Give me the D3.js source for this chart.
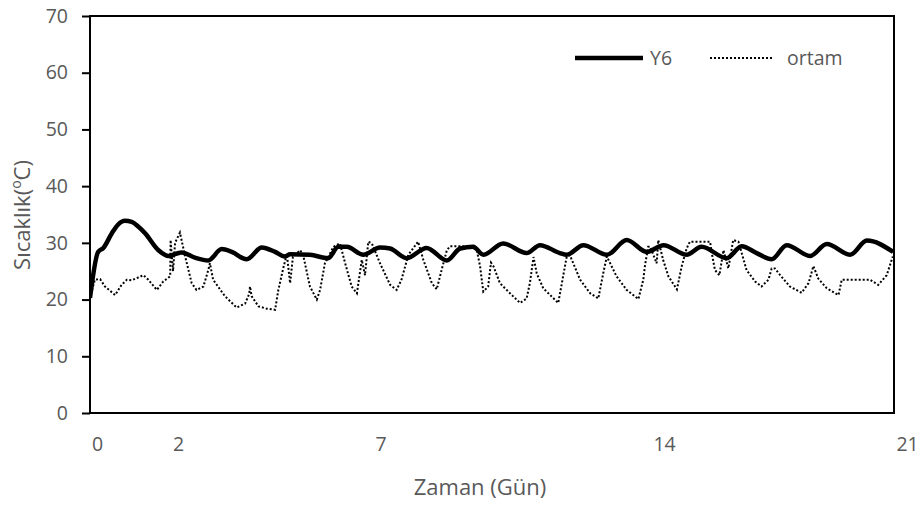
<!DOCTYPE html>
<html><head><meta charset="utf-8">
<script src="https://cdn.jsdelivr.net/npm/d3@7/dist/d3.min.js"></script>
<style>body{margin:0;background:#fff}svg{display:block}text{font-family:"Open Sans",sans-serif;fill:#595959}</style>
</head><body><svg id="c" width="922" height="505"></svg>
<script>
// ---- data ----
const y6Days = [0,0.20,0.33,0.54,0.69,0.86,1.03,1.19,1.36,1.69,1.93,2.26,2.59,2.92,3.25,3.50,3.87,4.24,4.57,4.81,4.94,5.43,5.88,6.13,6.34,6.75,7.16,7.41,7.82,8.31,8.81,9.14,9.46,9.71,10.20,10.78,11.11,11.60,11.77,12.18,12.76,13.25,13.75,14.16,14.73,15.10,15.72,16.09,16.46,16.83,17.20,17.78,18.19,18.77,19.18,19.83];
const y6Temps = [20.3,28.4,29.1,31.7,33.2,33.9,33.7,32.9,31.7,28.7,27.7,28.3,27.4,26.9,28.9,28.4,27.1,29.2,28.4,27.6,28.0,27.9,27.3,29.3,29.3,27.9,29.2,29.0,27.3,29.1,26.9,29.0,29.3,27.9,29.9,28.2,29.6,28.2,27.9,29.6,27.9,30.5,28.4,29.6,27.9,29.3,27.3,29.4,28.2,27.1,29.6,27.7,29.8,27.9,30.4,28.4];
const ortamDays = [0,0.12,0.25,0.37,0.62,0.78,0.91,1.03,1.32,1.44,1.65,1.81,1.98,1.99,2.05,2.10,2.22,2.35,2.51,2.63,2.80,2.92,2.96,3.04,3.33,3.62,3.83,3.93,3.95,3.99,4.16,4.36,4.57,4.65,4.77,4.86,4.94,5.01,5.19,5.27,5.43,5.60,5.68,5.80,6.01,6.17,6.30,6.46,6.59,6.71,6.79,6.87,6.96,7.16,7.41,7.57,7.69,7.86,8.10,8.23,8.44,8.56,8.68,8.81,8.89,9.22,9.38,9.55,9.63,9.71,9.83,9.90,9.96,10.12,10.37,10.62,10.78,10.86,10.95,11.03,11.19,11.56,11.65,11.77,11.85,12.10,12.35,12.55,12.67,12.76,13.00,13.25,13.54,13.66,13.70,13.78,13.83,13.99,14.03,14.15,14.28,14.49,14.61,14.73,14.81,15.06,15.31,15.35,15.43,15.54,15.64,15.76,15.88,16.01,16.09,16.21,16.42,16.58,16.75,16.83,16.91,17.04,17.28,17.57,17.74,17.86,17.98,18.19,18.48,18.56,18.89,19.26,19.46,19.67,19.82];
const ortamTemps = [20.3,23.5,23.6,22.3,20.8,22.6,23.5,23.4,24.3,23.5,21.7,23.2,24.1,30.5,25.0,30.0,31.8,27.6,22.9,21.7,22.3,25.2,26.4,23.5,20.6,18.6,19.3,21.0,22.3,20.6,18.8,18.4,18.2,21.7,25.5,28.0,22.9,27.5,28.7,27.6,22.3,20.0,21.7,26.4,29.3,29.9,26.4,22.3,21.1,27.0,24.3,30.2,29.9,26.4,22.6,21.7,23.5,27.9,30.2,27.0,22.9,21.8,25.2,28.7,29.4,29.4,29.4,28.7,25.9,21.4,22.3,26.5,25.9,22.9,21.1,19.4,20.2,22.9,27.5,24.6,22.0,19.4,22.9,27.6,27.8,23.5,21.1,20.2,24.6,27.6,24.1,21.7,20.1,23.5,25.9,29.3,29.3,26.4,30.5,27.0,24.1,21.8,25.9,29.0,30.2,30.2,30.2,28.2,25.2,24.3,28.7,25.5,30.5,30.2,28.2,25.2,23.2,22.3,23.5,25.5,25.5,24.3,22.3,21.2,22.9,25.9,23.7,22.0,20.8,23.5,23.5,23.5,22.6,24.3,27.6];
const yTicks = [0,10,20,30,40,50,60,70];
const xTickDays = [0,2,7,14,20];
const xTickLabels = ["0","2","7","14","21"];
const seriesNames = ["Y6","ortam"];

// ---- layout ----
const svg = d3.select("#c");
const L = 90, R = 894, T = 16, B = 413;
const x = d3.scaleLinear().domain([0, 19.85]).range([L, R]);
const y = d3.scaleLinear().domain([0, 70]).range([B, T]);

svg.append("defs").append("clipPath").attr("id","clip")
  .append("rect").attr("x",L).attr("y",T).attr("width",R-L).attr("height",B-T);

// y axis
const ya = svg.append("g").attr("transform",`translate(${L},0)`)
  .call(d3.axisLeft(y).tickValues(yTicks).tickSize(8).tickPadding(14));
ya.select(".domain").remove();
ya.selectAll("line").attr("stroke","#000").attr("stroke-width",2);
ya.selectAll("text").style("font-size","19.5px").style("font-family","'Open Sans',sans-serif").attr("fill","#595959");

// x axis labels
const xa = svg.append("g").attr("transform",`translate(0,${B})`)
  .call(d3.axisBottom(x).tickValues(xTickDays).tickSize(0).tickPadding(24)
    .tickFormat((d,i)=>xTickLabels[i]));
xa.select(".domain").remove();
xa.selectAll("text").attr("dx",7).style("font-size","19.5px").style("font-family","'Open Sans',sans-serif").attr("fill","#595959");

// frame
svg.append("rect").attr("x",L).attr("y",T).attr("width",R-L).attr("height",B-T)
  .attr("fill","none").attr("stroke","#000").attr("stroke-width",2);

// lines
const g = svg.append("g").attr("clip-path","url(#clip)");
const ortam = ortamDays.map((d,i)=>[d, ortamTemps[i]]);
const y6 = y6Days.map((d,i)=>[d, y6Temps[i]]);
g.append("path").datum(ortam)
  .attr("d", d3.line().x(d=>x(d[0])).y(d=>y(d[1])))
  .attr("fill","none").attr("stroke","#000").attr("stroke-width",2)
  .attr("stroke-dasharray","2,2");
g.append("path").datum(y6)
  .attr("d", d3.line().curve(d3.curveMonotoneX).x(d=>x(d[0])).y(d=>y(d[1])))
  .attr("fill","none").attr("stroke","#000").attr("stroke-width",4.5)
  .attr("stroke-linejoin","round");

// legend
const lg = svg.append("g");
lg.append("line").attr("x1",575).attr("x2",643).attr("y1",58).attr("y2",58)
  .attr("stroke","#000").attr("stroke-width",4.5);
lg.append("text").attr("x",650).attr("y",65).style("font-size","19.5px").text(seriesNames[0]);
lg.append("line").attr("x1",710).attr("x2",772).attr("y1",58).attr("y2",58)
  .attr("stroke","#000").attr("stroke-width",2).attr("stroke-dasharray","2,2");
lg.append("text").attr("x",787).attr("y",65).style("font-size","19.5px").text(seriesNames[1]);

// axis titles
svg.append("text").attr("x",480).attr("y",495).attr("text-anchor","middle")
  .style("font-size","22px").text("Zaman (Gün)");
const yt = svg.append("text").attr("transform","translate(30,215) rotate(-90)")
  .attr("text-anchor","middle").style("font-size","22px");
yt.append("tspan").text("Sıcaklık(");
yt.append("tspan").attr("baseline-shift","super").style("font-size","14px").text("o");
yt.append("tspan").text("C)");
</script></body></html>
